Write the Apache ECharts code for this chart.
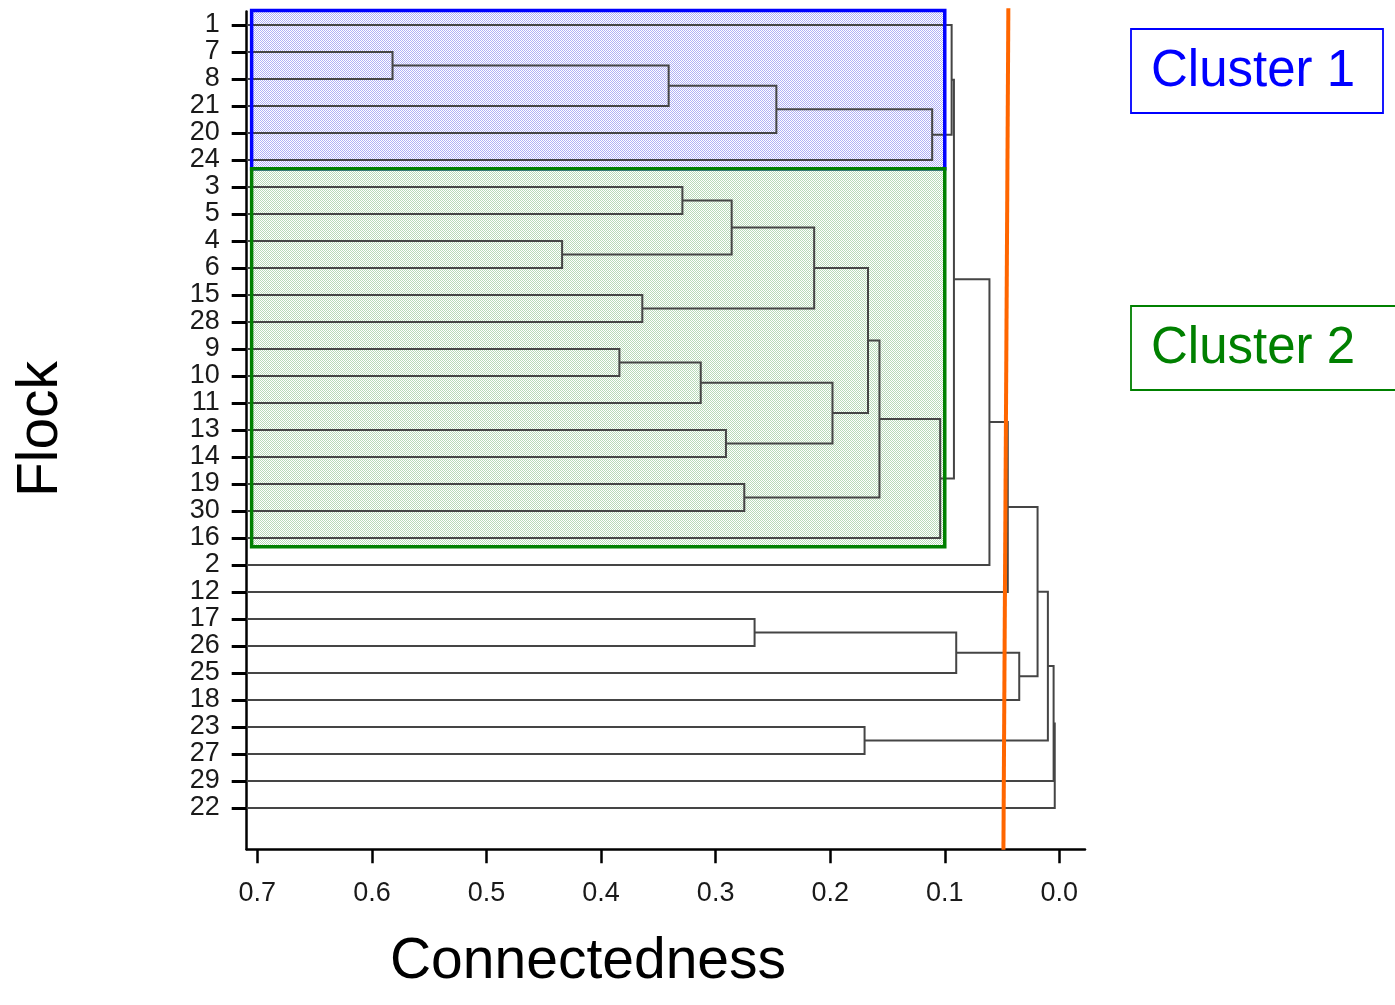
<!DOCTYPE html>
<html>
<head>
<meta charset="utf-8">
<title>Flock dendrogram</title>
<script src="https://cdn.jsdelivr.net/npm/echarts@6/dist/echarts.min.js"></script>
<style>
  html, body { margin: 0; padding: 0; background: #fff; }
  #chart { width: 1395px; height: 1005px; }
</style>
</head>
<body>
<div id="chart"></div>
<script>
// 叶子（羊群编号），按图中从上到下的顺序
const leaves = ['1', '7', '8', '21', '20', '24', '3', '5', '4', '6', '15', '28', '9', '10', '11',
  '13', '14', '19', '30', '16', '2', '12', '17', '26', '25', '18', '23', '27', '29', '22'];

// 合并步骤：节点 0-29 为叶子，30 起为合并后的节点
const mergeA = [1, 30, 31, 32, 0, 6, 8, 35, 10, 37, 12, 40, 15, 41, 39, 17, 44, 46, 34, 48, 49, 22, 51, 52, 50, 26, 54, 56, 57];
const mergeB = [2, 3, 4, 5, 33, 7, 9, 36, 11, 38, 13, 14, 16, 42, 43, 18, 45, 19, 47, 20, 21, 23, 24, 25, 53, 27, 55, 28, 29];
const mergeHeight = [0.582, 0.341, 0.247, 0.111, 0.094, 0.329, 0.434, 0.286, 0.364, 0.214, 0.384, 0.313, 0.291, 0.198, 0.167,
  0.275, 0.157, 0.104, 0.092, 0.061, 0.045, 0.266, 0.090, 0.035, 0.019, 0.170, 0.010, 0.005, 0.004];

// 聚类框：叶子范围与切割值
const clusterNames = ['Cluster 1', 'Cluster 2'];
const clusterFirst = [0, 6];
const clusterLast = [5, 19];
const clusterCut = 0.1;

// 切割线（上端与下端的 connectedness 值）
const cutLine = [0.0445, 0.0488];

// x 轴刻度
const xTicks = [0, 0.1, 0.2, 0.3, 0.4, 0.5, 0.6, 0.7];

// 轴范围
const xMin = -0.0224;
const xMax = 0.7093;
const yMin = -0.5;
const yMax = 30.53;

const font = 'Liberation Sans, Arial, sans-serif';

// 计算节点位置
const nodeY = leaves.map((_, i) => i);
const nodeH = leaves.map(() => xMax);
const links = [];
mergeA.forEach((a, i) => {
  const b = mergeB[i];
  const h = mergeHeight[i];
  links.push([nodeH[a], nodeY[a], nodeH[b], nodeY[b], h]);
  nodeY.push((nodeY[a] + nodeY[b]) / 2);
  nodeH.push(h);
});

// 聚类框数据
const boxes = [];
clusterFirst.forEach((first, i) => {
  const top = i === 0 ? first - 0.54 : boxes[i - 1][1];
  boxes.push([top, clusterLast[i] + 0.32, i]);
});

// 点状填充
const makePattern = (color) => {
  const c = document.createElement('canvas');
  c.width = 2;
  c.height = 2;
  const ctx = c.getContext('2d');
  ctx.fillStyle = '#ffffff';
  ctx.fillRect(0, 0, 2, 2);
  ctx.fillStyle = color;
  ctx.fillRect(0, 0, 1, 1);
  ctx.fillRect(1, 1, 1, 1);
  return c;
};
const boxColors = ['#0000ff', '#008000'];
const boxFills = [makePattern('#b0b0f6'), makePattern('#b8dab8')];

const chart = echarts.init(document.getElementById('chart'));

const boxItem = (withFill) => (params, api) => {
  const i = api.value(2);
  const p1 = api.coord([0.705, api.value(0)]);
  const p2 = api.coord([clusterCut, api.value(1)]);
  return {
    type: 'rect',
    shape: { x: p1[0], y: p1[1], width: p2[0] - p1[0], height: p2[1] - p1[1] },
    style: withFill
      ? { fill: { image: boxFills[i], repeat: 'repeat' }, stroke: null }
      : { fill: null, stroke: boxColors[i], lineWidth: 3.5 }
  };
};

chart.setOption({
  animation: false,
  backgroundColor: '#fff',
  grid: { left: 246.7, right: 310, top: 11.5, bottom: 155.7 },
  xAxis: {
    type: 'value',
    inverse: true,
    min: xMin,
    max: xMax,
    axisLine: { onZero: false, lineStyle: { color: '#000', width: 2.5 } },
    axisTick: { show: true, customValues: xTicks, length: 14, lineStyle: { color: '#000', width: 2.5 } },
    axisLabel: {
      customValues: xTicks,
      formatter: v => v.toFixed(1),
      fontSize: 27,
      fontFamily: font,
      color: '#1a1a1a',
      margin: 31
    },
    splitLine: { show: false }
  },
  yAxis: {
    type: 'value',
    inverse: true,
    min: yMin,
    max: yMax,
    axisLine: { show: true, onZero: false, lineStyle: { color: '#000', width: 2.5 } },
    axisTick: { show: true, customValues: leaves.map((_, i) => i), length: 15, lineStyle: { color: '#000', width: 3 } },
    axisLabel: {
      customValues: leaves.map((_, i) => i),
      formatter: v => leaves[Math.round(v)] || '',
      fontSize: 27,
      fontFamily: font,
      color: '#1a1a1a',
      margin: 27
    },
    splitLine: { show: false }
  },
  series: [
    {
      type: 'custom',
      name: 'clusterFill',
      z: 1,
      renderItem: boxItem(true),
      data: boxes,
      silent: true
    },
    {
      type: 'custom',
      name: 'dendrogram',
      z: 2,
      renderItem: (params, api) => {
        const pA = api.coord([api.value(0), api.value(1)]);
        const qA = api.coord([api.value(4), api.value(1)]);
        const qB = api.coord([api.value(4), api.value(3)]);
        const pB = api.coord([api.value(2), api.value(3)]);
        return {
          type: 'polyline',
          shape: { points: [pA, qA, qB, pB] },
          style: { fill: null, stroke: '#454545', lineWidth: 2 }
        };
      },
      data: links,
      silent: true
    },
    {
      type: 'custom',
      name: 'clusterBorder',
      z: 3,
      renderItem: boxItem(false),
      data: boxes,
      silent: true
    },
    {
      type: 'line',
      name: 'cut',
      z: 5,
      clip: false,
      symbol: 'none',
      lineStyle: { color: '#ff6600', width: 4 },
      data: [[cutLine[0], -0.62], [cutLine[1], 30.55]],
      silent: true
    }
  ],
  graphic: [
    {
      type: 'text',
      x: 588,
      y: 962,
      style: {
        text: 'Connectedness',
        font: `57px ${font}`,
        fill: '#000',
        align: 'center',
        verticalAlign: 'middle'
      }
    },
    {
      type: 'text',
      x: 41,
      y: 429,
      rotation: Math.PI / 2,
      style: {
        text: 'Flock',
        font: `57px ${font}`,
        fill: '#000',
        align: 'center',
        verticalAlign: 'middle'
      }
    },
    ...clusterNames.map((name, i) => ({
      type: 'group',
      x: 1131,
      y: i === 0 ? 29 : 306,
      children: [
        {
          type: 'rect',
          shape: { x: 0, y: 0, width: i === 0 ? 252 : 280, height: 84 },
          style: { fill: '#fff', stroke: boxColors[i], lineWidth: 1.8 }
        },
        {
          type: 'text',
          x: 20,
          y: 43,
          style: {
            text: name,
            font: `51px ${font}`,
            fill: boxColors[i],
            align: 'left',
            verticalAlign: 'middle'
          }
        }
      ]
    }))
  ]
});

window.addEventListener('resize', () => chart.resize());
</script>
</body>
</html>
